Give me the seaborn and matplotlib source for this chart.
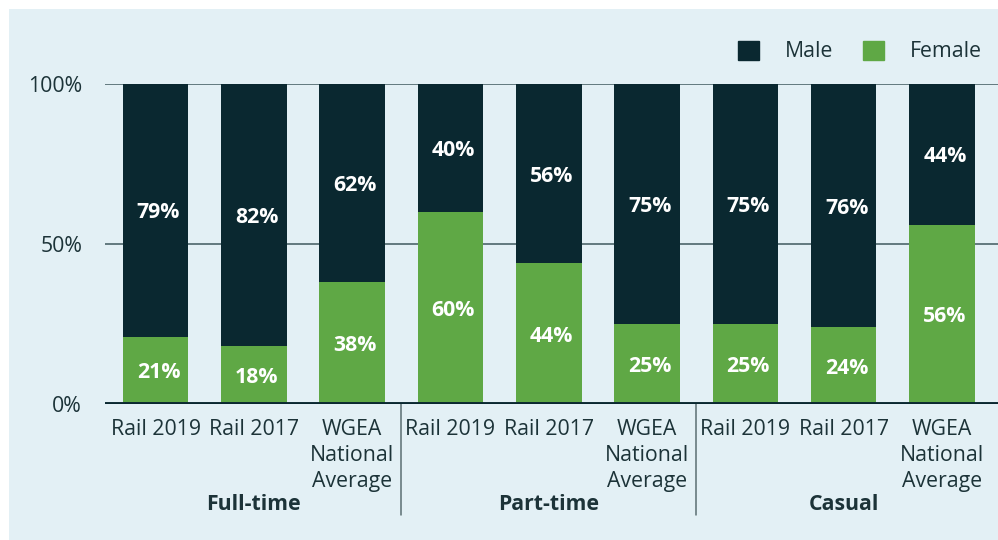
import matplotlib
matplotlib.use("Agg")
import matplotlib.pyplot as plt
import matplotlib.patches as mpatches
import matplotlib.transforms as mtransforms
import seaborn as sns
import pandas as pd

groups = ["Full-time", "Part-time", "Casual"]
bar_labels = ["Rail 2019", "Rail 2017", "WGEA\nNational\nAverage"]
male = [79, 82, 62, 40, 56, 75, 75, 76, 44]
female = [21, 18, 38, 60, 44, 25, 25, 24, 56]
yticks = [0, 50, 100]
ytick_labels = ["0%", "50%", "100%"]

DARK = "#0a2830"
GREEN = "#5fa845"
PANEL = "#e3f0f5"
TEXT = "#1c3338"

sns.set_theme(style="white")
plt.rcParams["font.family"] = ["Open Sans", "DejaVu Sans"]

ids = [f"{g}|{b}" for g in groups for b in bar_labels]
df = pd.DataFrame({
    "id": ids,
    "total": [m + f for m, f in zip(male, female)],
    "male": male,
    "female": female,
})

W, H = 998, 540
fig = plt.figure(figsize=(W / 100, H / 100), dpi=100, facecolor="white")
fig.patches.append(mpatches.Rectangle((9 / W, 0), 1 - 9 / W, 1 - 9 / H,
                                      transform=fig.transFigure, facecolor=PANEL,
                                      edgecolor="none", zorder=-10))

ax = fig.add_axes([105 / W, 1 - 404 / H, (998 - 105) / W, 320 / H])
ax.set_facecolor("none")

sns.barplot(data=df, x="id", y="total", order=ids, color=DARK, width=0.667,
            linewidth=0, saturation=1, ax=ax, zorder=3)
sns.barplot(data=df, x="id", y="female", order=ids, color=GREEN, width=0.667,
            linewidth=0, saturation=1, ax=ax, zorder=3)

ax.set_xlim(-0.514, 8.57)
ax.set_ylim(0, 100)
for s in ax.spines.values():
    s.set_visible(False)

for yv in [50, 100]:
    ax.axhline(yv, color="#62797e", lw=1.4, zorder=2)
ax.axhline(0, color=DARK, lw=2.8, zorder=4)

ax.set_yticks(yticks)
ax.set_yticklabels(ytick_labels)
ax.tick_params(axis="y", length=0, pad=16.5, labelsize=15.3, labelcolor=TEXT)
ax.set_xticks(range(len(ids)))
ax.set_xticklabels(bar_labels * len(groups), linespacing=1.3)
ax.tick_params(axis="x", length=0, pad=11, labelsize=15.3, labelcolor=TEXT)
ax.set_xlabel("")
ax.set_ylabel("")

# value labels
for i, (m, f) in enumerate(zip(male, female)):
    ax.text(i + 0.03, f + m / 2 - 0.8, f"{m}%", color="white", fontsize=15.3,
            fontweight="bold", ha="center", va="center", zorder=5)
    ax.text(i + 0.03, f / 2 - 0.8, f"{f}%", color="white", fontsize=15.3,
            fontweight="bold", ha="center", va="center", zorder=5)

# group labels and separators
trans = mtransforms.blended_transform_factory(ax.transData, ax.transAxes)
for gi, g in enumerate(groups):
    ax.text(gi * 3 + 1, (404 - 505) / 320, g, transform=trans, ha="center",
            va="center", fontsize=15.3, fontweight="bold", color=TEXT)
for xs in [2.5, 5.5]:
    ax.plot([xs, xs], [0, -(515 - 404) / 320], transform=trans, color="#5a6e72",
            lw=1.1, clip_on=False)

handles = [mpatches.Patch(color=DARK, label="Male"),
           mpatches.Patch(color=GREEN, label="Female")]
fig.legend(handles=handles, loc="upper right", bbox_to_anchor=(992 / W, 1 - 30 / H),
           ncol=2, frameon=False, fontsize=15.3, handlelength=1.0, handleheight=1.0,
           handletextpad=1.2, columnspacing=1.4, borderpad=0, labelcolor=TEXT)

fig.savefig("out.png", dpi=100, facecolor="white")
